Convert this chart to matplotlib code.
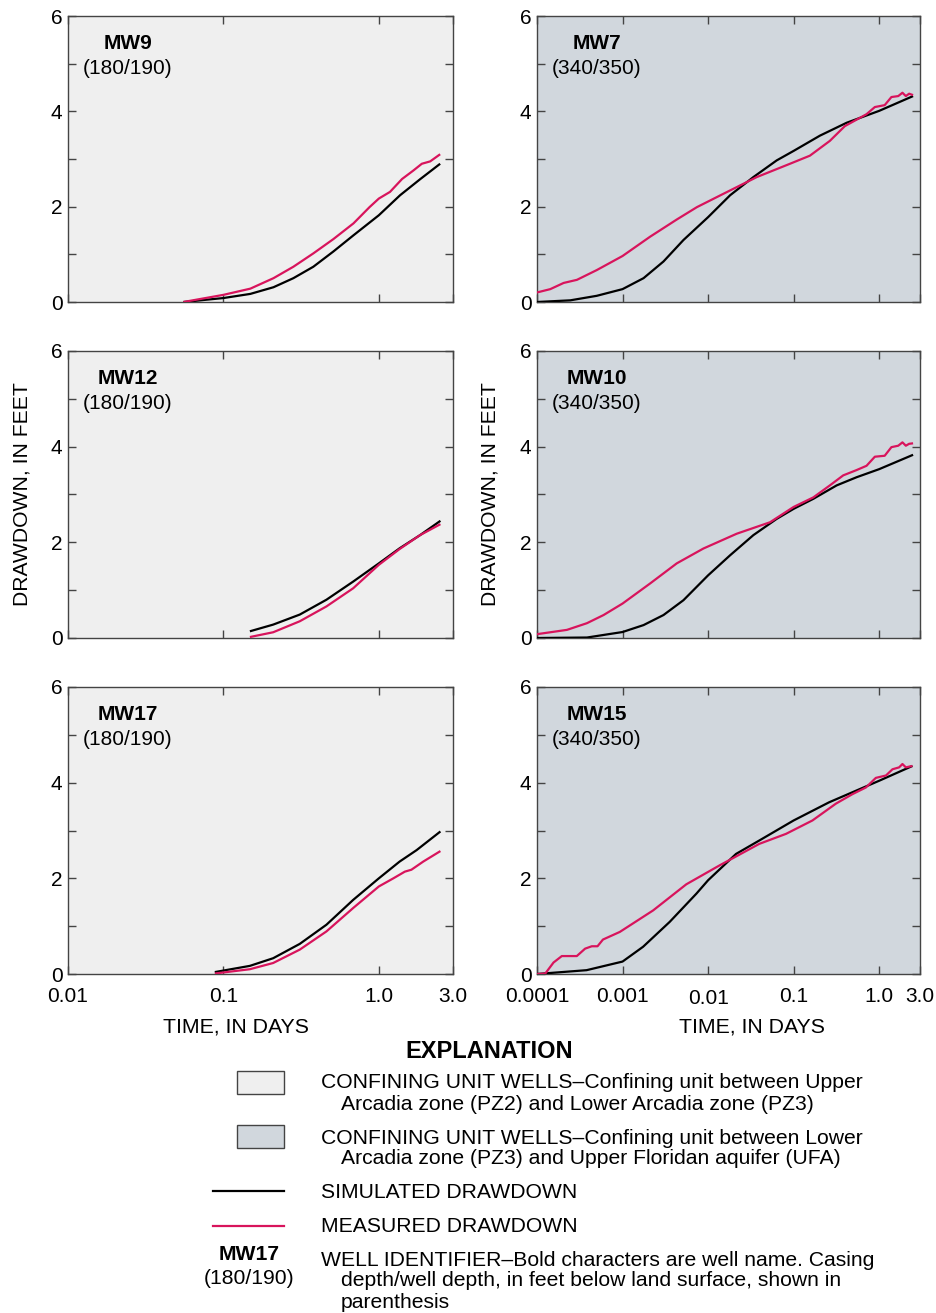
#!/usr/bin/env python3
"""
Simulated vs measured drawdown at the confining unit monitor wells
"""

import matplotlib
matplotlib.use("Agg")
import matplotlib.pyplot as plt
from matplotlib.patches import Rectangle
from matplotlib.lines import Line2D
from matplotlib.transforms import ScaledTranslation

plt.rcParams['font.family'] = ['Liberation Sans', 'DejaVu Sans']

# ---- data (time in days, drawdown in feet) ----
# MW9 (180/190)
mw9_t_sim = [0.0553, 0.1, 0.149, 0.21, 0.282, 0.379, 0.51, 0.687, 1.0, 1.37, 1.85, 2.48]
mw9_dd_sim = [0.0, 0.083, 0.17, 0.31, 0.50, 0.74, 1.06, 1.40, 1.82, 2.24, 2.58, 2.90]
mw9_t_meas = [0.0553, 0.1, 0.149, 0.21, 0.282, 0.379, 0.51, 0.687, 0.871, 1.0, 1.18,
              1.41, 1.67, 1.89, 2.14, 2.48]
mw9_dd_meas = [0.0, 0.15, 0.28, 0.50, 0.74, 1.02, 1.32, 1.65, 1.99, 2.17, 2.31,
               2.58, 2.76, 2.90, 2.95, 3.10]

# MW12 (180/190)
mw12_t_sim = [0.148, 0.209, 0.31, 0.46, 0.684, 1.0, 1.36, 1.84, 2.49]
mw12_dd_sim = [0.14, 0.28, 0.49, 0.80, 1.18, 1.56, 1.875, 2.15, 2.45]
mw12_t_meas = [0.148, 0.209, 0.31, 0.46, 0.684, 1.0, 1.36, 1.84, 2.49]
mw12_dd_meas = [0.02, 0.12, 0.35, 0.66, 1.04, 1.53, 1.86, 2.15, 2.38]

# MW17 (180/190)
mw17_t_sim = [0.088, 0.148, 0.209, 0.31, 0.46, 0.684, 1.0, 1.36, 1.75, 2.49]
mw17_dd_sim = [0.04, 0.17, 0.33, 0.63, 1.03, 1.55, 2.00, 2.35, 2.59, 2.98]
mw17_t_meas = [0.088, 0.148, 0.209, 0.31, 0.46, 0.684, 1.0, 1.24, 1.47, 1.62, 1.93, 2.49]
mw17_dd_meas = [0.01, 0.10, 0.23, 0.51, 0.89, 1.38, 1.83, 2.00, 2.14, 2.18, 2.35, 2.57]

# MW7 (340/350)
mw7_t_sim = [1e-4, 2.45e-4, 5.0e-4, 1e-3, 1.76e-3, 3.01e-3, 5.15e-3, 0.01, 0.0181,
             0.0338, 0.0633, 0.1, 0.203, 0.416, 1.0, 2.49]
mw7_dd_sim = [0.0, 0.035, 0.13, 0.27, 0.50, 0.85, 1.30, 1.78, 2.24,
              2.62, 2.97, 3.17, 3.49, 3.76, 4.01, 4.32]
mw7_t_meas = [1e-4, 1.43e-4, 2.05e-4, 2.93e-4, 5.0e-4, 1e-3, 2.1e-3, 4.3e-3, 7.4e-3,
              0.0151, 0.037, 0.0906, 0.155, 0.265, 0.397, 0.711, 0.89, 1.16,
              1.39, 1.67, 1.87, 2.05, 2.24, 2.49]
mw7_dd_meas = [0.20, 0.27, 0.40, 0.465, 0.67, 0.965, 1.37, 1.73, 1.99,
               2.27, 2.62, 2.90, 3.07, 3.38, 3.69, 3.94, 4.09, 4.13,
               4.30, 4.32, 4.39, 4.32, 4.37, 4.34]

# MW10 (340/350)
mw10_t_sim = [1e-4, 3.84e-4, 1e-3, 1.76e-3, 3.01e-3, 5.15e-3, 0.01, 0.0181, 0.0338,
              0.0633, 0.1, 0.17, 0.318, 0.543, 1.0, 2.49]
mw10_dd_sim = [0.0, 0.01, 0.125, 0.27, 0.48, 0.79, 1.31, 1.73, 2.15,
               2.49, 2.70, 2.91, 3.19, 3.36, 3.53, 3.83]
mw10_t_meas = [1e-4, 2.24e-4, 3.84e-4, 6.0e-4, 1e-3, 2.1e-3, 4.3e-3, 8.8e-3, 0.0216,
               0.053, 0.1, 0.17, 0.265, 0.38, 0.543, 0.711, 0.89, 1.16, 1.39,
               1.67, 1.87, 2.05, 2.24, 2.49]
mw10_dd_meas = [0.08, 0.17, 0.31, 0.48, 0.72, 1.14, 1.56, 1.87, 2.18,
                2.42, 2.74, 2.94, 3.19, 3.40, 3.51, 3.60, 3.79, 3.81, 3.99,
                4.02, 4.09, 4.02, 4.06, 4.07]

# MW15 (340/350)
mw15_t_sim = [1e-4, 3.8e-4, 1e-3, 1.74e-3, 3.56e-3, 7.3e-3, 0.01, 0.0212, 0.0396,
              0.1, 0.26, 0.487, 1.0, 2.45]
mw15_dd_sim = [0.0, 0.08, 0.26, 0.57, 1.09, 1.68, 1.96, 2.51, 2.79,
               3.21, 3.59, 3.80, 4.04, 4.35]
mw15_t_meas = [1e-4, 1.25e-4, 1.56e-4, 1.95e-4, 2.92e-4, 3.65e-4, 4.37e-4, 5.1e-4,
               5.9e-4, 9.3e-4, 2.28e-3, 5.56e-3, 0.0136, 0.0396, 0.0815, 0.166,
               0.311, 0.487, 0.70, 0.914, 1.2, 1.43, 1.71, 1.87, 2.05, 2.45]
mw15_dd_meas = [0.0, 0.01, 0.24, 0.375, 0.375, 0.53, 0.58, 0.58,
                0.72, 0.88, 1.33, 1.875, 2.27, 2.72, 2.93, 3.21,
                3.56, 3.76, 3.90, 4.10, 4.15, 4.28, 4.32, 4.39, 4.32, 4.35]

wells = [
    # name, depths, col, row, sim t, sim dd, meas t, meas dd
    ('MW9', '(180/190)', 0, 0, mw9_t_sim, mw9_dd_sim, mw9_t_meas, mw9_dd_meas),
    ('MW7', '(340/350)', 1, 0, mw7_t_sim, mw7_dd_sim, mw7_t_meas, mw7_dd_meas),
    ('MW12', '(180/190)', 0, 1, mw12_t_sim, mw12_dd_sim, mw12_t_meas, mw12_dd_meas),
    ('MW10', '(340/350)', 1, 1, mw10_t_sim, mw10_dd_sim, mw10_t_meas, mw10_dd_meas),
    ('MW17', '(180/190)', 0, 2, mw17_t_sim, mw17_dd_sim, mw17_t_meas, mw17_dd_meas),
    ('MW15', '(340/350)', 1, 2, mw15_t_sim, mw15_dd_sim, mw15_t_meas, mw15_dd_meas),
]

left_ticks = [0.01, 0.1, 1.0, 3.0]
left_ticklabels = ['0.01', '0.1', '1.0', '3.0']
right_ticks = [0.0001, 0.001, 0.01, 0.1, 1.0, 3.0]
right_ticklabels = ['0.0001', '0.001', '0.01', '0.1', '1.0', '3.0']

LIGHT = '#efefef'
BLUEGRAY = '#d1d7dd'
RED = '#d8145c'
SPINE = '#444444'

W, H = 937, 1313
fig = plt.figure(figsize=(W / 100, H / 100), dpi=100)


def fx(px):
    return px / W


def fy(py):
    return 1 - py / H


col_x = [(68, 453), (537, 920)]
row_y = [(16, 302), (351, 638), (687, 974)]

for name, depth, col, row, ts, ds, tm, dm in wells:
    x0, x1 = col_x[col]
    y0, y1 = row_y[row]
    ax = fig.add_axes([fx(x0), fy(y1), fx(x1 - x0), (y1 - y0) / H])
    ax.set_facecolor(LIGHT if col == 0 else BLUEGRAY)
    ax.plot(ts, ds, color='black', lw=1.6, solid_capstyle='butt', zorder=3)
    ax.plot(tm, dm, color=RED, lw=1.6, solid_capstyle='butt', zorder=4)

    ax.set_xscale('log')
    if col == 0:
        ax.set_xlim(0.01, 3.0)
        ax.set_xticks(left_ticks)
        ax.set_xticklabels(left_ticklabels)
    else:
        ax.set_xlim(0.0001, 3.0)
        ax.set_xticks(right_ticks)
        ax.set_xticklabels(right_ticklabels)
    ax.xaxis.set_minor_locator(matplotlib.ticker.NullLocator())
    ax.set_ylim(0, 6)
    ax.set_yticks([0, 1, 2, 3, 4, 5, 6])
    ax.set_yticklabels(['0', '', '2', '', '4', '', '6'])

    ax.tick_params(direction='in', length=6, width=1, color=SPINE,
                   top=True, right=True, labelsize=15, pad=4)
    if row != 2:
        ax.tick_params(labelbottom=False)
    else:
        ax.tick_params(axis='x', pad=9)
        if col == 1:
            # the 0.01 label sits a little lower in the original
            lab = ax.xaxis.get_major_ticks()[2].label1
            lab.set_transform(lab.get_transform()
                              + ScaledTranslation(0, -0.03, fig.dpi_scale_trans))
    for s in ax.spines.values():
        s.set_color(SPINE)
        s.set_linewidth(1.0)

    ax.text(0.156, 0.905, name, transform=ax.transAxes, ha='center', va='center',
            fontsize=15, fontweight='bold')
    ax.text(0.156, 0.818, depth, transform=ax.transAxes, ha='center', va='center',
            fontsize=15)

    if row == 1:
        ax.set_ylabel('DRAWDOWN, IN FEET', fontsize=15.2)
        xc = 22 if col == 0 else 490
        ax.yaxis.set_label_coords((xc - x0) / (x1 - x0), 0.5)
        ax.yaxis.label.set_va('center')
    if row == 2:
        ax.set_xlabel('TIME, IN DAYS', fontsize=15.3)
        xc = 236 if col == 0 else 752
        ax.xaxis.set_label_coords((xc - x0) / (x1 - x0), (y1 - 1027) / (y1 - y0))
        ax.xaxis.label.set_va('center')

# ---- explanation ----
fs = 15.2
fig.text(fx(489), fy(1051), 'EXPLANATION', ha='center', va='center',
         fontsize=17, fontweight='bold')

for yb, color in [(1071, LIGHT), (1125, BLUEGRAY)]:
    fig.patches.append(Rectangle((fx(237), fy(yb + 23)), fx(47), 23 / H,
                                 transform=fig.transFigure, facecolor=color,
                                 edgecolor=SPINE, lw=1.0))

fig.lines.append(Line2D([fx(213), fx(284)], [fy(1191), fy(1191)],
                        transform=fig.transFigure, color='black', lw=1.6))
fig.lines.append(Line2D([fx(213), fx(284)], [fy(1226), fy(1226)],
                        transform=fig.transFigure, color=RED, lw=1.6))

entries = [
    (321, 1083, 'CONFINING UNIT WELLS\u2013Confining unit between Upper'),
    (341, 1104, 'Arcadia zone (PZ2) and Lower Arcadia zone (PZ3)'),
    (321, 1138, 'CONFINING UNIT WELLS\u2013Confining unit between Lower'),
    (341, 1159, 'Arcadia zone (PZ3) and Upper Floridan aquifer (UFA)'),
    (321, 1193, 'SIMULATED DRAWDOWN'),
    (321, 1226, 'MEASURED DRAWDOWN'),
    (321, 1261, 'WELL IDENTIFIER\u2013Bold characters are well name. Casing'),
    (341, 1281, 'depth/well depth, in feet below land surface, shown in'),
    (341, 1302, 'parenthesis'),
]
for x, y, s in entries:
    fig.text(fx(x), fy(y), s, ha='left', va='center', fontsize=fs)

fig.text(fx(249), fy(1255), 'MW17', ha='center', va='center',
         fontsize=fs, fontweight='bold')
fig.text(fx(249), fy(1279), '(180/190)', ha='center', va='center', fontsize=fs)

fig.savefig('out.png', dpi=100)
